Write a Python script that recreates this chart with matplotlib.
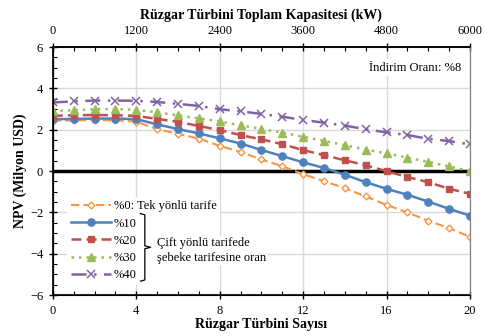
import matplotlib
matplotlib.use('Agg')
import matplotlib.pyplot as plt
from matplotlib.ticker import MultipleLocator

plt.rcParams['font.family'] = ['Liberation Serif', 'DejaVu Serif']
plt.rcParams['font.size'] = 9

turbines = list(range(0, 21))
npv_0 = [2.44, 2.45, 2.47, 2.45, 2.39, 2.03, 1.80, 1.57, 1.22, 0.92, 0.56, 0.23, -0.15, -0.49,
         -0.83, -1.23, -1.64, -2.00, -2.41, -2.76, -3.19]
npv_10 = [2.51, 2.52, 2.54, 2.54, 2.51, 2.26, 2.03, 1.82, 1.58, 1.33, 1.02, 0.72, 0.42, 0.15,
          -0.18, -0.54, -0.86, -1.15, -1.48, -1.83, -2.16]
npv_20 = [2.67, 2.70, 2.71, 2.70, 2.67, 2.52, 2.38, 2.18, 1.98, 1.74, 1.53, 1.30, 1.01, 0.77,
          0.52, 0.28, -0.01, -0.29, -0.54, -0.86, -1.10]
npv_30 = [2.90, 2.94, 2.99, 3.00, 2.96, 2.84, 2.69, 2.55, 2.40, 2.21, 2.04, 1.86, 1.66, 1.46,
          1.25, 1.04, 0.85, 0.65, 0.44, 0.22, 0.0]
npv_40 = [3.32, 3.37, 3.41, 3.41, 3.40, 3.34, 3.25, 3.15, 2.99, 2.89, 2.76, 2.63, 2.47, 2.34,
          2.20, 2.02, 1.87, 1.74, 1.56, 1.45, 1.29]
labels = ['%0: Tek yönlü tarife', '%10', '%20', '%30', '%40']

fig = plt.figure(figsize=(4.85, 3.36), dpi=100)
ax = fig.add_axes([0.109, 0.122, 0.860, 0.738])

ax.plot(turbines, npv_0, color='#F79646', ls=(0, (4, 2)), lw=1.5, marker='D', ms=3.5,
        mfc='white', mec='#F79646', mew=1.0, label=labels[0])
ax.plot(turbines, npv_10, color='#4F81BD', ls='-', lw=1.8, marker='o', ms=5.2,
        label=labels[1])
ax.plot(turbines, npv_20, color='#C0504D', ls=(0, (4, 2)), lw=1.8, marker='s', ms=5,
        label=labels[2])
ax.plot(turbines, npv_30, color='#9BBB59', ls=(0, (1, 2)), lw=1.8, marker='^', ms=5.5,
        label=labels[3])
ax.plot(turbines, npv_40, color='#8064A2', ls=(0, (6, 3, 1, 3)), lw=1.8, marker='x', ms=6,
        mew=1.1, label=labels[4])

ax.axhline(0, color='black', lw=2.5, zorder=1)

ax.set_xlim(0, 20)
ax.set_ylim(-6, 6)
ax.xaxis.set_major_locator(MultipleLocator(4))
ax.xaxis.set_minor_locator(MultipleLocator(1))
ax.yaxis.set_major_locator(MultipleLocator(2))
ax.yaxis.set_minor_locator(MultipleLocator(0.5))
ax.grid(True, which='major', color='#D9D9D9', lw=1.0, zorder=0)
ax.set_axisbelow(True)
ax.tick_params(which='major', direction='inout', length=6, width=1.0, pad=4)
ax.tick_params(which='minor', direction='in', length=3, width=0.8)
ax.spines['right'].set_color('#808080')
for s in ['left', 'bottom', 'top']:
    ax.spines[s].set_linewidth(1.2)

ax.set_xlabel('Rüzgar Türbini Sayısı', fontweight='bold', fontsize=10, labelpad=1)
ax.set_ylabel('NPV (Milyon USD)', fontweight='bold', fontsize=10, labelpad=2)

ax2 = ax.twiny()
ax2.set_xlim(0, 6000)
ax2.xaxis.set_major_locator(MultipleLocator(1200))
ax2.xaxis.set_minor_locator(MultipleLocator(300))
ax2.tick_params(which='major', direction='inout', length=6, width=1.0, pad=4)
ax2.tick_params(which='minor', direction='in', length=3, width=0.8)
ax2.spines['right'].set_color('#808080')
ax2.spines['top'].set_linewidth(1.2)
ax2.set_xlabel('Rüzgar Türbini Toplam Kapasitesi (kW)', fontweight='bold', fontsize=10, labelpad=5)

ax.text(19.6, 5.0, 'İndirim Oranı: %8', ha='right', va='center', fontsize=9,
        bbox=dict(facecolor='white', edgecolor='none', pad=2))

leg = ax.legend(loc='lower left', bbox_to_anchor=(0.02, 0.015), frameon=True, fancybox=False,
                edgecolor='none', facecolor='white', framealpha=1, fontsize=9,
                handlelength=3.2, handletextpad=0.2, labelspacing=0.42, borderpad=0.3)
leg.set_zorder(5)

# bracket grouping the two-way tariff entries
bx = [4.2, 4.41, 4.41, 4.69, 4.41, 4.41, 4.2]
by = [-2.06, -2.12, -3.62, -3.69, -3.76, -5.27, -5.33]
ax.plot(bx, by, color='black', lw=0.9, zorder=7, solid_joinstyle='round')
ax.text(5.0, -3.85, 'Çift yönlü tarifede\nşebeke tarifesine oran', ha='left', va='center',
        fontsize=9, linespacing=1.25, zorder=7,
        bbox=dict(facecolor='white', edgecolor='none', pad=1))

fig.savefig('out.png', dpi=100)
